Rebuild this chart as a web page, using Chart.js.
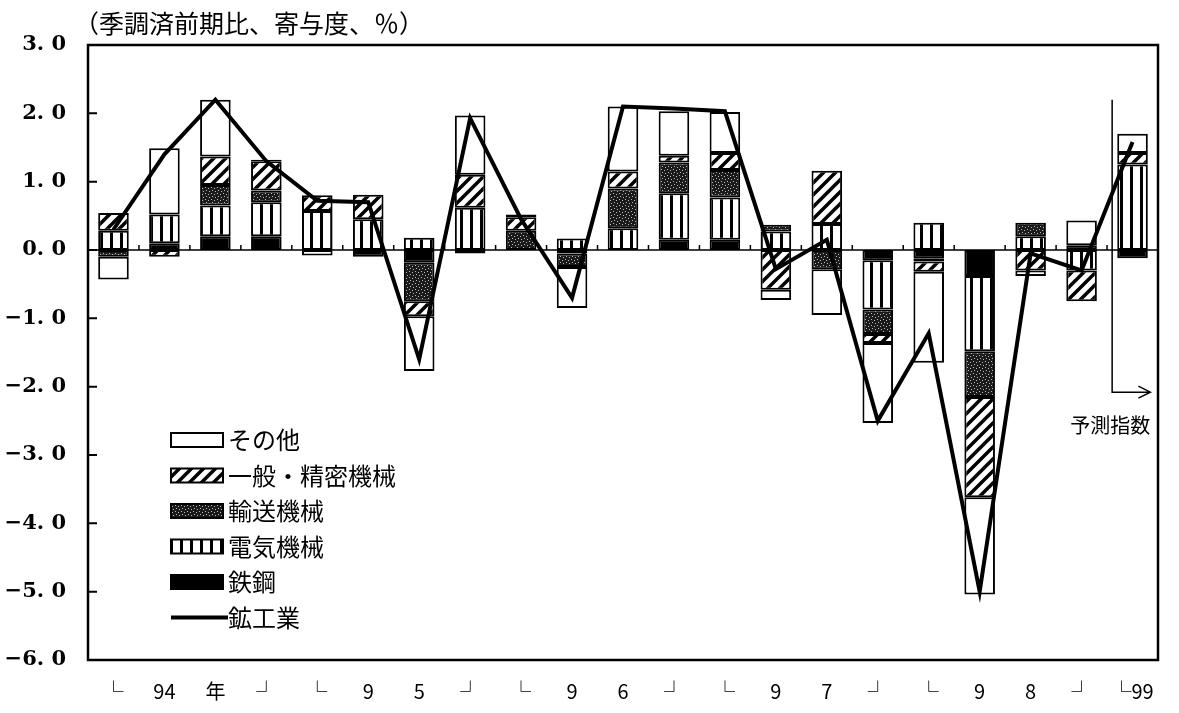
<!DOCTYPE html>
<html>
<head>
<meta charset="utf-8">
<script src="https://cdn.jsdelivr.net/npm/chart.js@4.4.1/dist/chart.umd.min.js"></script>
<style>
  body { margin: 0; background: #fff; }
  #wrap { width: 1179px; height: 713px; position: relative; }
</style>
</head>
<body>
<div id="wrap"><canvas id="grafico"></canvas></div>
<script>
// 四半期ラベル (94年1-3月期 〜 99年1-3月期)
var etiquetas = ['└', '94', '年', '┘', '└', '9', '5', '┘', '└', '9', '6', '┘',
                 '└', '9', '7', '┘', '└', '9', '8', '┘', '└99'];

// 寄与度 (%)
var tekko   = [null, 0.10, 0.20, 0.20, null, -0.10, -0.18, -0.05, null, -0.05, null, 0.15, 0.15, null, null, -0.15, -0.12, -0.38, null, 0.07, -0.12];
var denki   = [0.28, 0.42, 0.45, 0.50, 0.57, 0.45, 0.18, 0.62, null, 0.17, 0.32, 0.68, 0.62, 0.27, 0.38, -0.72, 0.40, -1.10, 0.20, -0.30, 1.25];
var yuso    = [-0.10, null, 0.30, 0.17, null, null, -0.57, null, 0.28, -0.20, 0.58, 0.45, 0.40, 0.10, -0.28, -0.36, -0.05, -0.67, 0.20, null, null];
var ippan   = [0.26, -0.10, 0.42, 0.43, 0.23, 0.36, -0.22, 0.48, 0.20, null, 0.25, 0.10, 0.25, -0.58, 0.78, -0.13, -0.15, -1.47, -0.30, -0.45, 0.17];
var sonota  = [-0.33, 0.97, 0.83, 0.02, -0.08, null, -0.80, 0.87, 0.04, -0.60, 0.95, 0.65, 0.60, -0.15, -0.67, -1.17, -1.33, -1.42, -0.08, 0.36, 0.28];
var kokogyo = [0.30, 1.40, 2.20, 1.30, 0.72, 0.70, -1.60, 1.93, 0.45, -0.70, 2.10, 2.07, 2.03, -0.28, 0.15, -2.50, -1.22, -5.00, -0.05, -0.30, 1.58];

var yTicks = [3, 2, 1, 0, -1, -2, -3, -4, -5, -6];

function patron(tipo) {
  var c = document.createElement('canvas');
  var g = c.getContext('2d');
  if (tipo === 'rayas') {
    c.width = 10; c.height = 10;
    g.fillStyle = '#fff'; g.fillRect(0, 0, 10, 10);
    g.fillStyle = '#000'; g.fillRect(0, 0, 3, 10);
  } else if (tipo === 'diagonal') {
    c.width = 12; c.height = 12;
    g.fillStyle = '#fff'; g.fillRect(0, 0, 12, 12);
    g.strokeStyle = '#000'; g.lineWidth = 3.5;
    g.beginPath();
    g.moveTo(0, 12); g.lineTo(12, 0);
    g.moveTo(-6, 6); g.lineTo(6, -6);
    g.moveTo(6, 18); g.lineTo(18, 6);
    g.stroke();
  } else if (tipo === 'puntos') {
    c.width = 6; c.height = 6;
    g.fillStyle = '#1a1a1a'; g.fillRect(0, 0, 6, 6);
    g.fillStyle = '#bbb';
    g.fillRect(1, 1, 1, 1); g.fillRect(4, 2, 1, 1);
    g.fillRect(2, 4, 1, 1); g.fillRect(5, 5, 1, 1);
  }
  return g.createPattern(c, 'repeat');
}

var relleno = {
  tekko: '#000',
  denki: patron('rayas'),
  yuso: patron('puntos'),
  ippan: patron('diagonal'),
  sonota: '#fff'
};

function barra(nombre, datos, fondo) {
  return {
    type: 'bar',
    label: nombre,
    data: datos,
    backgroundColor: fondo,
    borderColor: '#000',
    borderWidth: 2,
    borderSkipped: false,
    stack: 'barras',
    order: 1,
    barPercentage: 0.6,
    categoryPercentage: 1
  };
}

var fuenteJP = '"Noto Sans CJK JP", "Noto Sans", sans-serif';

var extras = {
  id: 'extras',
  beforeDatasetsDraw: function (chart) {
    var ctx = chart.ctx, a = chart.chartArea, x = chart.scales.x, y = chart.scales.y;
    var y0 = y.getPixelForValue(0);
    ctx.save();
    ctx.strokeStyle = '#000';
    ctx.lineWidth = 1.5;
    ctx.beginPath();
    ctx.moveTo(a.left, y0); ctx.lineTo(a.right, y0);
    // marcas pequeñas entre trimestres
    for (var i = 0; i < etiquetas.length - 1; i++) {
      var px = x.getPixelForValue(i + 0.5);
      ctx.moveTo(px, y0); ctx.lineTo(px, y0 - 5);
    }
    ctx.stroke();
    ctx.restore();
  },
  afterDraw: function (chart) {
    var ctx = chart.ctx, a = chart.chartArea, x = chart.scales.x, y = chart.scales.y;
    ctx.save();
    ctx.strokeStyle = '#000';
    // marco
    ctx.lineWidth = 2.5;
    ctx.strokeRect(a.left, a.top, a.right - a.left, a.bottom - a.top);
    // ticks hacia dentro
    ctx.lineWidth = 2;
    ctx.beginPath();
    yTicks.forEach(function (v) {
      var py = y.getPixelForValue(v);
      ctx.moveTo(a.left, py); ctx.lineTo(a.left + 9, py);
    });
    ctx.stroke();

    // título
    ctx.fillStyle = '#000';
    ctx.font = '25px ' + fuenteJP;
    ctx.textBaseline = 'middle';
    ctx.textAlign = 'left';
    ctx.fillText('（季調済前期比、寄与度、％）', 74, 23);

    // 予測指数
    var xf = x.getPixelForValue(19.6);
    var yTop = y.getPixelForValue(2.2), yBot = y.getPixelForValue(-2.08);
    var xEnd = x.getPixelForValue(20.35);
    ctx.lineWidth = 1.5;
    ctx.beginPath();
    ctx.moveTo(xf, yTop); ctx.lineTo(xf, yBot); ctx.lineTo(xEnd, yBot);
    ctx.moveTo(xEnd - 12, yBot - 6); ctx.lineTo(xEnd, yBot); ctx.lineTo(xEnd - 12, yBot + 6);
    ctx.stroke();
    ctx.font = '20px ' + fuenteJP;
    ctx.textAlign = 'center';
    ctx.fillText('予測指数', xf - 2, y.getPixelForValue(-2.56));

    // leyenda
    var items = [
      ['その他', relleno.sonota],
      ['一般・精密機械', relleno.ippan],
      ['輸送機械', relleno.yuso],
      ['電気機械', relleno.denki],
      ['鉄鋼', relleno.tekko],
      ['鉱工業', null]
    ];
    ctx.font = '24px ' + fuenteJP;
    ctx.textAlign = 'left';
    items.forEach(function (it, i) {
      var cy = 440 + i * 35.5;
      if (it[1] !== null) {
        ctx.fillStyle = it[1];
        ctx.fillRect(171, cy - 7, 52, 14);
        ctx.lineWidth = 2;
        ctx.strokeRect(171, cy - 7, 52, 14);
      } else {
        ctx.lineWidth = 4;
        ctx.beginPath();
        ctx.moveTo(171, cy); ctx.lineTo(228, cy);
        ctx.stroke();
      }
      ctx.fillStyle = '#000';
      ctx.fillText(it[0], 228, cy);
    });
    ctx.restore();
  }
};

new Chart(document.getElementById('grafico'), {
  data: {
    labels: etiquetas,
    datasets: [
      {
        type: 'line',
        label: '鉱工業',
        data: kokogyo,
        borderColor: '#000',
        borderWidth: 4,
        pointRadius: 0,
        tension: 0,
        fill: false,
        stack: 'linea',
        order: 0
      },
      barra('鉄鋼', tekko, relleno.tekko),
      barra('電気機械', denki, relleno.denki),
      barra('輸送機械', yuso, relleno.yuso),
      barra('一般・精密機械', ippan, relleno.ippan),
      barra('その他', sonota, relleno.sonota)
    ]
  },
  options: {
    responsive: true,
    maintainAspectRatio: false,
    animation: false,
    layout: { padding: { top: 45, right: 21, left: 0, bottom: 0 } },
    plugins: {
      legend: { display: false },
      tooltip: { enabled: false }
    },
    scales: {
      x: {
        stacked: true,
        grid: { display: false, drawTicks: false },
        border: { display: false },
        ticks: {
          autoSkip: false,
          maxRotation: 0,
          padding: 19,
          color: '#000',
          font: { family: fuenteJP, size: 20 }
        },
        afterFit: function (s) { s.height = 53; }
      },
      y: {
        stacked: true,
        min: -6,
        max: 3,
        grid: { display: false, drawTicks: false },
        border: { display: false },
        ticks: {
          stepSize: 1,
          padding: 22,
          color: '#000',
          font: { family: '"DejaVu Serif", serif', size: 21, weight: 'bold' },
          callback: function (v) {
            var s = Math.abs(v).toFixed(1).replace('.', '. ');
            return (v < 0 ? '−' : '') + s;
          }
        },
        afterFit: function (s) { s.width = 88; }
      }
    }
  },
  plugins: [extras]
});
</script>
</body>
</html>
